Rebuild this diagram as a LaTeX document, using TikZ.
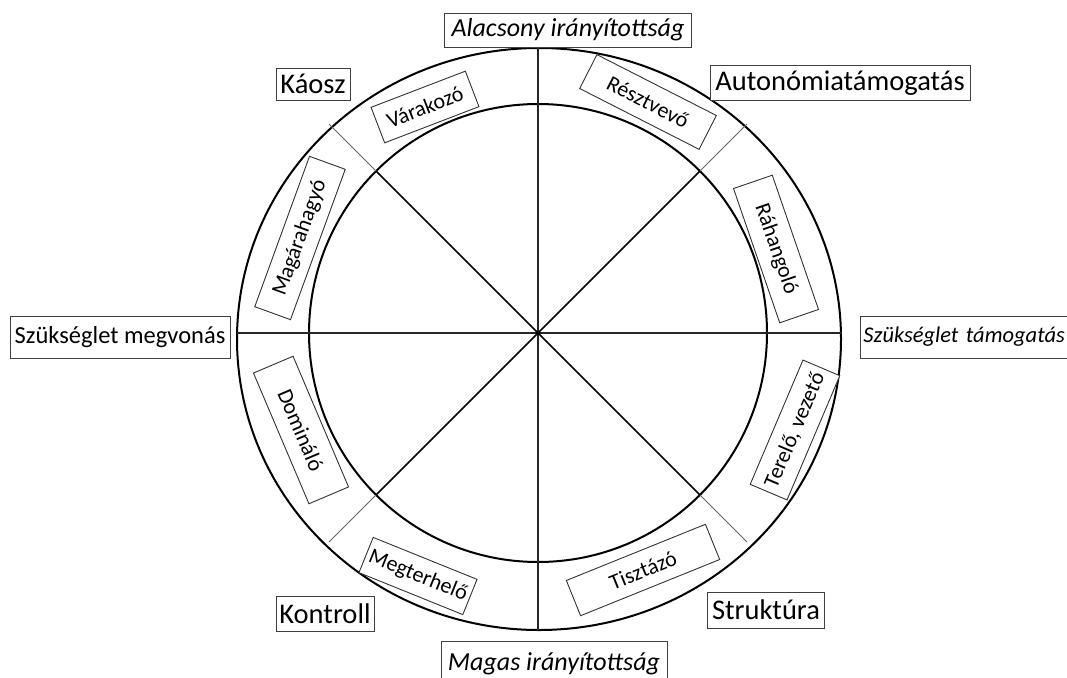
\documentclass[tikz,border=0pt]{standalone}
\usepackage{fontspec}
\setmainfont{Carlito}
\begin{document}
\begin{tikzpicture}[x=1pt,y=-1pt,
  axisbox/.style={draw=black!75, line width=0.9pt, fill=white, inner sep=0pt, align=center},
  big/.style={font=\fontsize{28.5}{32}\selectfont},
  mid/.style={font=\fontsize{24.5}{28}\selectfont},
  ital/.style={font=\fontsize{26}{29}\selectfont\itshape},
  ringlabel/.style={draw=black!80, line width=0.9pt, fill=white, inner sep=0pt, minimum height=38, font=\fontsize{22}{25}\selectfont},
  circ/.style={line width=2pt, black},
  spoke/.style={line width=1.6pt, black},
  axisline/.style={line width=1.1pt, black!85},
  ringspoke/.style={line width=0.9pt, black!60}]
\clip (0,0) rectangle (1067,677);
\fill[white] (0,0) rectangle (1067,677);
% geometry
\coordinate (c) at (538,333);
\coordinate (t) at (538,48);
\coordinate (b) at (538,630);
\coordinate (l) at (237,333);
\coordinate (r) at (842,333);
\coordinate (ia) at (376,171);
\coordinate (ib) at (700,171);
\coordinate (ic) at (376,495);
\coordinate (id) at (700,495);
\coordinate (oa) at (329,124);
\coordinate (ob) at (747,124);
\coordinate (oc) at (329,542);
\coordinate (od) at (747,542);
% circles
\draw[circ] (c) circle[radius=229];
\draw[circ] (539,339) ellipse[x radius=302, y radius=291];
% spokes
\draw[axisline] (t) -- (b);
\draw[axisline] (l) -- (r);
\draw[spoke] (ia) -- (id);
\draw[spoke] (ib) -- (ic);
\draw[ringspoke] (ia) -- (oa);
\draw[ringspoke] (ib) -- (ob);
\draw[ringspoke] (ic) -- (oc);
\draw[ringspoke] (id) -- (od);
% ring labels
\node[ringlabel, rotate=21, minimum width=101] (var) at (425,107) {Várakozó};
\node[ringlabel, rotate=-27, minimum width=134] (res) at (648,102) {Résztvevő};
\node[ringlabel, rotate=-71, minimum width=142, minimum height=41] (rah) at (776,249) {Ráhangoló};
\node[ringlabel, rotate=67, minimum width=135, minimum height=40] (ter) at (795,430) {Terelő, vezető};
\node[ringlabel, rotate=22, minimum width=150] (tis) at (643,570) {Tisztázó};
\node[ringlabel, rotate=-22, minimum width=112] (meg) at (418,576) {Megterhelő};
\node[ringlabel, rotate=-67, minimum width=142, minimum height=43] (dom) at (301,430) {Domináló};
\node[ringlabel, rotate=70, minimum width=160] (mag) at (300,238) {Magárahagyó};
% axis labels
\node[axisbox, ital, minimum width=247, minimum height=34] (alac) at (568,30) {Alacsony irányítottság};
\node[axisbox, big, minimum width=74, minimum height=32] (kaosz) at (313,84) {Káosz};
\node[axisbox, big, minimum width=260, minimum height=35] (auto) at (840,83) {Autonómiatámogatás};
\node[axisbox, mid, minimum width=220, minimum height=42] (megv) at (120,337) {Szükséglet megvonás};
\node[axisbox, font=\fontsize{22.5}{26}\selectfont\itshape, minimum height=42, anchor=west, text width=214, align=left, inner xsep=3pt] (tam) at (860,337) {Szükséglet~támogatás};
\node[axisbox, big, minimum width=98, minimum height=35] (kont) at (325,614) {Kontroll};
\node[axisbox, big, minimum width=117, minimum height=36] (strk) at (766,610) {Struktúra};
\node[axisbox, ital, minimum width=226, minimum height=44, anchor=north] (magas) at (554,641) {Magas irányítottság};
\end{tikzpicture}
\end{document}
